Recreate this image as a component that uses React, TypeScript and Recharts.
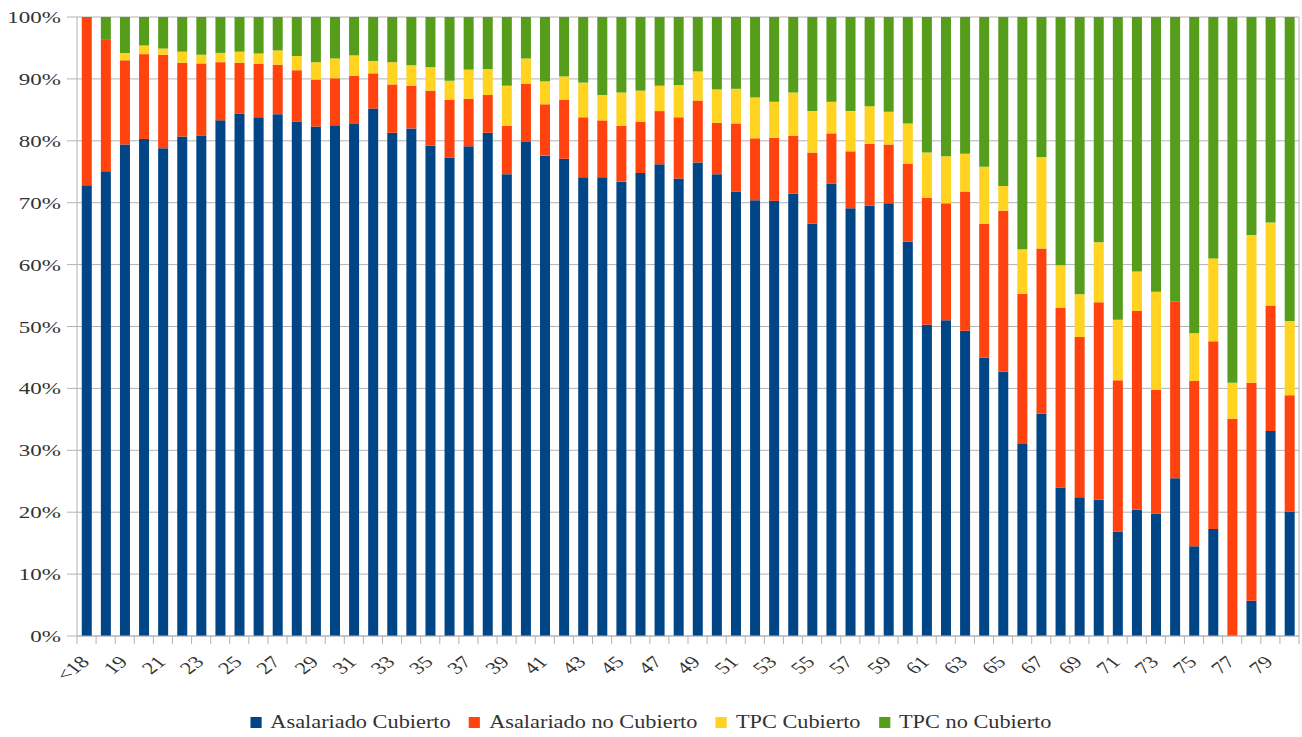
import { BarChart, Bar, XAxis, YAxis, CartesianGrid, Legend } from 'recharts';

const ages = [
    '<18', '18', '19', '20', '21', '22', '23', '24', '25', '26', '27', '28', '29', '30', '31', '32',
    '33', '34', '35', '36', '37', '38', '39', '40', '41', '42', '43', '44', '45', '46', '47', '48',
    '49', '50', '51', '52', '53', '54', '55', '56', '57', '58', '59', '60', '61', '62', '63', '64',
    '65', '66', '67', '68', '69', '70', '71', '72', '73', '74', '75', '76', '77', '78', '79', '80',
];

// % por tramo de edad
const asalariadoCubierto = [
    72.8, 75.1, 79.4, 80.3, 78.8, 80.7, 80.8, 83.3, 84.4, 83.8,
    84.3, 83.1, 82.3, 82.5, 82.7, 85.2, 81.3, 82.0, 79.2, 77.3,
    79.1, 81.3, 74.6, 79.8, 77.6, 77.1, 74.1, 74.1, 73.4, 74.8,
    76.2, 73.9, 76.5, 74.6, 71.8, 70.4, 70.3, 71.5, 66.6, 73.1,
    69.1, 69.5, 69.9, 63.7, 50.3, 51.0, 49.3, 45.0, 42.7, 31.0,
    35.9, 24.0, 22.4, 22.0, 16.9, 20.4, 19.8, 25.5, 14.5, 17.3,
    0, 5.7, 33.1, 20.1,
];
const asalariadoNoCubierto = [
    27.2, 21.2, 13.6, 13.7, 15.1, 11.9, 11.7, 9.4, 8.2, 8.6,
    8.0, 8.3, 7.6, 7.6, 7.8, 5.7, 7.8, 6.9, 8.9, 9.3,
    7.7, 6.1, 7.8, 9.4, 8.3, 9.5, 9.7, 9.2, 9.0, 8.3,
    8.6, 9.9, 10.0, 8.3, 11.0, 10.0, 10.2, 9.3, 11.5, 8.1,
    9.2, 10.0, 9.5, 12.6, 20.5, 18.9, 22.5, 21.6, 26.0, 24.3,
    26.7, 29.0, 25.9, 31.9, 24.4, 32.1, 20.0, 28.5, 26.7, 30.3,
    35.1, 35.2, 20.3, 18.8,
];
const tpcCubierto = [
    0, 0, 1.2, 1.4, 1.0, 1.8, 1.4, 1.5, 1.8, 1.7,
    2.3, 2.3, 2.8, 3.2, 3.3, 2.0, 3.6, 3.3, 3.8, 3.1,
    4.7, 4.2, 6.5, 4.1, 3.7, 3.8, 5.6, 4.1, 5.4, 5.0,
    4.1, 5.2, 4.7, 5.4, 5.6, 6.6, 5.8, 7.0, 6.7, 5.1,
    6.5, 6.1, 5.3, 6.5, 7.3, 7.6, 6.1, 9.2, 4.0, 7.2,
    14.8, 6.9, 6.9, 9.7, 9.8, 6.4, 15.8, 0, 7.7, 13.4,
    5.8, 23.9, 13.4, 12.0,
];
const tpcNoCubierto = [
    0, 3.7, 5.8, 4.6, 5.1, 5.6, 6.1, 5.8, 5.6, 5.9,
    5.4, 6.3, 7.3, 6.7, 6.2, 7.1, 7.3, 7.8, 8.1, 10.3,
    8.5, 8.4, 11.1, 6.7, 10.4, 9.6, 10.6, 12.6, 12.2, 11.9,
    11.1, 11.0, 8.8, 11.7, 11.6, 13.0, 13.7, 12.2, 15.2, 13.7,
    15.2, 14.4, 15.3, 17.2, 21.9, 22.5, 22.1, 24.2, 27.3, 37.5,
    22.6, 40.1, 44.8, 36.4, 48.9, 41.1, 44.4, 46.0, 51.1, 39.0,
    59.1, 35.2, 33.2, 49.1,
];

const yTicks = [0, 0.1, 0.2, 0.3, 0.4, 0.5, 0.6, 0.7, 0.8, 0.9, 1];

const W = 1302;
const H = 737;
const MARGIN = { top: 17, right: 3, left: 0, bottom: 4 };
const Y_AXIS_W = 77;
const BAND = (W - MARGIN.right - Y_AXIS_W) / ages.length;

const FONT = '"Liberation Serif", "Times New Roman", serif';
const GRID = '#b3b3b3';
const STRETCH = 1.33;

const data = ages.map((age, i) => ({
    age,
    ac: asalariadoCubierto[i],
    anc: asalariadoNoCubierto[i],
    tc: tpcCubierto[i],
    tnc: tpcNoCubierto[i],
}));

function YTick({ x, y, payload }: any) {
    return (
        <text
            transform={`translate(${x},${y}) scale(${STRETCH},1)`}
            textAnchor="end"
            dy="0.35em"
            fontFamily={FONT}
            fontSize={17.3}
            fill="#333"
        >
            {Math.round(payload.value * 100)}%
        </text>
    );
}

function XTick({ x, y, payload, index }: any) {
    const left = x - BAND / 2;
    return (
        <g>
            <line x1={left} x2={left} y1={y} y2={y + 8} stroke={GRID} />
            {index === ages.length - 1 && (
                <line x1={x + BAND / 2} x2={x + BAND / 2} y1={y} y2={y + 8} stroke={GRID} />
            )}
            {index % 2 === 0 && (
                <text
                    transform={`translate(${x + 4},${y + 27}) scale(${STRETCH},1) rotate(-45)`}
                    textAnchor="end"
                    fontFamily={FONT}
                    fontSize={17}
                    fill="#333"
                >
                    {payload.value}
                </text>
            )}
        </g>
    );
}

function LegendRow({ payload }: any) {
    return (
        <div
            style={{
                display: 'flex',
                justifyContent: 'center',
                alignItems: 'center',
                columnGap: 15,
                height: 22,
                transform: 'scaleX(1.24)',
                transformOrigin: 'center',
                fontFamily: FONT,
                fontSize: 18,
                color: '#333',
            }}
        >
            {(payload || []).map((entry: any) => (
                <div key={entry.value} style={{ display: 'flex', alignItems: 'center' }}>
                    <span style={{ width: 9, height: 11, background: entry.color, marginRight: 7 }} />
                    <span>{entry.value}</span>
                </div>
            ))}
        </div>
    );
}

export default function App() {
    return (
        <div style={{ position: 'absolute', left: 0, top: 0, width: W, height: H, background: '#fff' }}>
            <BarChart width={W} height={H} data={data} margin={MARGIN} stackOffset="expand" barCategoryGap="25%">
                <CartesianGrid
                    stroke={GRID}
                    vertical={true}
                    verticalCoordinatesGenerator={({ offset }: any) => [offset.left + offset.width]}
                />
                <XAxis
                    dataKey="age"
                    interval={0}
                    height={75}
                    tickSize={0}
                    tickMargin={0}
                    tickLine={false}
                    axisLine={{ stroke: GRID }}
                    tick={<XTick />}
                />
                <YAxis
                    width={Y_AXIS_W}
                    domain={[0, 1]}
                    ticks={yTicks}
                    tickSize={10}
                    tickMargin={6}
                    tickLine={{ stroke: GRID }}
                    axisLine={{ stroke: GRID }}
                    tick={<YTick />}
                />
                <Legend
                    verticalAlign="bottom"
                    height={22}
                    wrapperStyle={{ left: 0, width: W, bottom: MARGIN.bottom }}
                    content={<LegendRow />}
                />
                <Bar dataKey="ac" name="Asalariado Cubierto" stackId="a" fill="#004586" isAnimationActive={false} />
                <Bar dataKey="anc" name="Asalariado no Cubierto" stackId="a" fill="#ff420e" isAnimationActive={false} />
                <Bar dataKey="tc" name="TPC Cubierto" stackId="a" fill="#ffd320" isAnimationActive={false} />
                <Bar dataKey="tnc" name="TPC no Cubierto" stackId="a" fill="#579d1c" isAnimationActive={false} />
            </BarChart>
        </div>
    );
}
